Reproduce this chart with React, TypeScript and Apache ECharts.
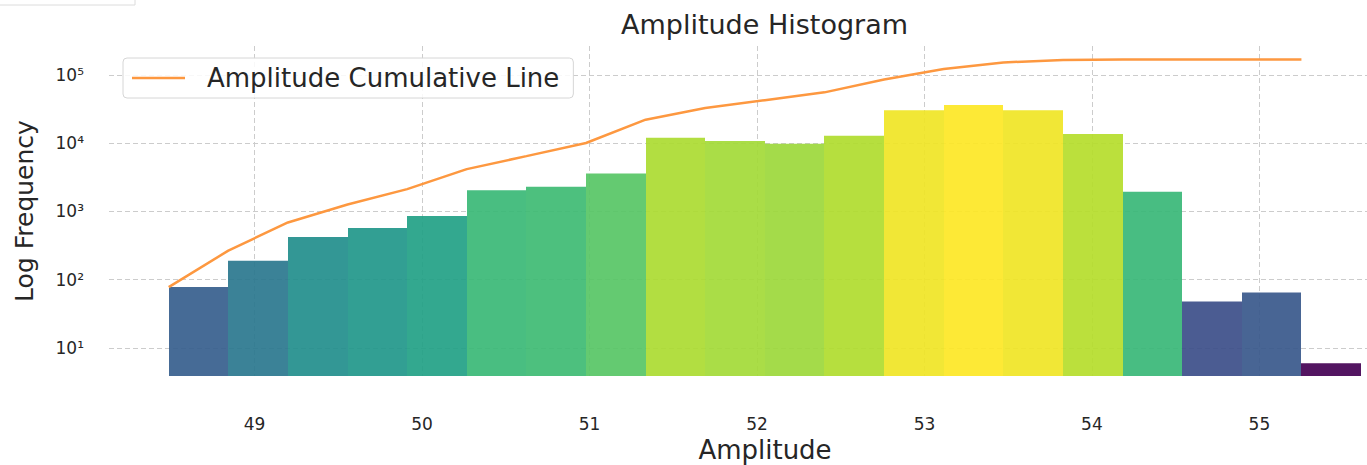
import React, { useEffect, useRef } from "react";
import * as echarts from "echarts";

// Histogram bins (left edges) and counts
const binLeft = [
  48.487, 48.843, 49.199, 49.555, 49.911, 50.267, 50.623, 50.979, 51.335, 51.691,
  52.047, 52.403, 52.759, 53.115, 53.471, 53.827, 54.183, 54.539, 54.895, 55.251,
];
const binWidth = 0.356;
const counts = [
  78, 189, 424, 575, 861, 2052, 2296, 3606, 12050, 10800,
  9840, 12900, 30400, 36300, 30400, 13700, 1950, 48, 65, 6,
];
// Cumulative line (plotted at bin left edges)
const cumulative = [
  78, 267, 691, 1266, 2127, 4179, 6475, 10081, 22131, 32931,
  42771, 55671, 86071, 122371, 152771, 166471, 168421, 168469, 168534, 168540,
];
const xTicks = [49, 50, 51, 52, 53, 54, 55];

const X_MIN = 48.1305;
const X_MAX = 55.965;
const Y_MIN = 3.886;
const Y_MAX = 266000;

const VIRIDIS = [
  "#440154", "#482475", "#414487", "#355f8d", "#2a788e", "#21918c",
  "#22a884", "#44bf70", "#7ad151", "#bddf26", "#fde725",
];

function hexToRgb(h: string) {
  return [parseInt(h.slice(1, 3), 16), parseInt(h.slice(3, 5), 16), parseInt(h.slice(5, 7), 16)];
}
function viridis(t: number) {
  const c = Math.max(0, Math.min(1, t)) * 10;
  const i = Math.min(9, Math.floor(c));
  const f = c - i;
  const a = hexToRgb(VIRIDIS[i]);
  const b = hexToRgb(VIRIDIS[i + 1]);
  const m = a.map((v, k) => Math.round(v + (b[k] - v) * f));
  return `rgb(${m[0]},${m[1]},${m[2]})`;
}

const SUP = ["⁰", "¹", "²", "³", "⁴", "⁵", "⁶", "⁷", "⁸", "⁹"];
const FONT = "DejaVu Sans";
const TXT = "#262626";
const LINE_COLOR = "#fd9840";

export default function App() {
  const ref = useRef<HTMLDivElement>(null);
  useEffect(() => {
    if (!ref.current) return;
    const chart = echarts.init(ref.current, undefined, { renderer: "svg" });
    const logs = counts.map((c) => Math.log10(c));
    const lmin = Math.min(...logs);
    const lmax = Math.max(...logs);
    const barData = binLeft.map((x, i) => ({
      value: [x, x + binWidth, counts[i]],
      itemStyle: { color: viridis((logs[i] - lmin) / (lmax - lmin)) },
    }));
    const lineData = binLeft.map((x, i) => [x, cumulative[i]]);

    chart.setOption({
      animation: false,
      backgroundColor: "#ffffff",
      title: {
        text: "Amplitude Histogram",
        left: 621,
        top: 11,
        padding: 0,
        textStyle: { fontFamily: FONT, fontSize: 27, fontWeight: "normal", color: TXT },
      },
      legend: {
        left: 123,
        top: 58,
        padding: [7, 14, 7, 9],
        icon: "rect",
        itemWidth: 53,
        itemHeight: 2.5,
        backgroundColor: "rgba(255,255,255,0.85)",
        borderColor: "#d6d6d6",
        borderWidth: 1,
        borderRadius: 4,
        textStyle: { fontFamily: FONT, fontSize: 26, color: TXT, padding: [0, 0, 0, 17] },
        data: ["Amplitude Cumulative Line"],
      },
      graphic: [
        {
          type: "rect",
          shape: { x: -1, y: -1, width: 136, height: 6 },
          style: { fill: "#ffffff", stroke: "#dcdcdc", lineWidth: 1 },
        },
      ],
      grid: {
        left: 109,
        right: -54,
        top: 46,
        bottom: 89,
        containLabel: false,
        outerBoundsMode: "none",
      },
      xAxis: {
        type: "value",
        min: X_MIN,
        max: X_MAX,
        name: "Amplitude",
        nameLocation: "middle",
        nameGap: 59,
        nameTextStyle: { fontFamily: FONT, fontSize: 26, color: TXT },
        axisLine: { show: false },
        axisTick: { show: false, customValues: xTicks },
        axisLabel: {
          customValues: xTicks,
          fontFamily: FONT,
          fontSize: 17,
          color: TXT,
          margin: 39,
          formatter: (v: number) => String(v),
        },
        splitLine: {
          show: true,
          lineStyle: { color: "#cccccc", width: 1, type: [5, 3] },
        },
      },
      yAxis: {
        type: "log",
        logBase: 10,
        min: Y_MIN,
        max: Y_MAX,
        name: "Log Frequency",
        nameLocation: "middle",
        nameGap: 72,
        nameTextStyle: { fontFamily: FONT, fontSize: 25, color: TXT },
        axisLine: { show: false },
        axisTick: { show: false },
        axisLabel: {
          showMinLabel: false,
          showMaxLabel: false,
          fontFamily: FONT,
          fontSize: 17,
          color: TXT,
          margin: 25,
          padding: [4, 0, 0, 0],
          formatter: (v: number) => {
            const e = Math.round(Math.log10(v));
            return "10" + String(e).split("").map((d) => SUP[+d]).join("");
          },
        },
        splitLine: {
          show: true,
          showMinLine: false,
          showMaxLine: false,
          lineStyle: { color: "#cccccc", width: 1, type: [5, 3] },
        },
      },
      series: [
        {
          type: "custom",
          name: "Amplitude",
          encode: { x: [0, 1], y: 2 },
          data: barData,
          z: 1,
          renderItem: (params: any, api: any) => {
            const x0 = api.value(0);
            const x1 = api.value(1);
            const v = api.value(2);
            const p0 = api.coord([x0, v]);
            const p1 = api.coord([x1, Y_MIN]);
            const left = Math.round(p0[0]);
            const right = Math.round(p1[0]);
            return {
              type: "rect",
              shape: { x: left, y: p0[1], width: right - left, height: p1[1] - p0[1] },
              style: { fill: api.visual("color"), opacity: 0.92 },
            };
          },
        },
        {
          type: "line",
          name: "Amplitude Cumulative Line",
          data: lineData,
          symbol: "none",
          showSymbol: false,
          z: 3,
          lineStyle: { color: LINE_COLOR, width: 2.5 },
          itemStyle: { color: LINE_COLOR },
        },
      ],
    });
    return () => chart.dispose();
  }, []);
  return (
    <div
      ref={ref}
      style={{ position: "absolute", left: 0, top: 0, width: 1367, height: 465 }}
    />
  );
}
